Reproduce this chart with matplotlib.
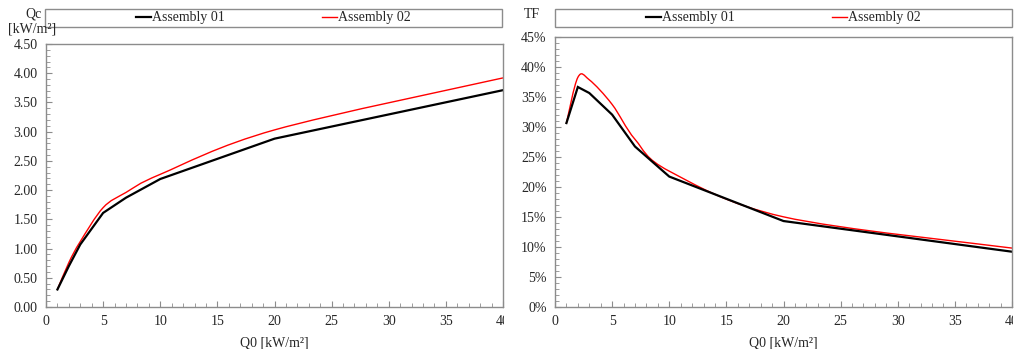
import numpy as np
import matplotlib
matplotlib.use("Agg")
import matplotlib.pyplot as plt
from matplotlib.path import Path
from matplotlib.patches import PathPatch, Rectangle
from matplotlib.lines import Line2D
from matplotlib.ticker import MultipleLocator, PercentFormatter, FormatStrFormatter

plt.rcParams['font.family'] = ['Liberation Serif', 'DejaVu Serif']

# data
q0 = [1, 2, 3, 5, 7, 10, 20, 40]
qc_a1 = [0.30, 0.70, 1.07, 1.61, 1.87, 2.19, 2.88, 3.71]
qc_a2 = [0.30, 0.76, 1.12, 1.70, 1.96, 2.27, 3.03, 3.92]
tf_a1 = [30.6, 36.6, 35.6, 32.0, 26.7, 21.7, 14.3, 9.2]
tf_a2 = [30.6, 38.2, 37.8, 33.7, 27.9, 22.6, 15.0, 9.8]
labels = ["Assembly 01", "Assembly 02"]


def smooth_path(x, y):
    # excel-like smoothed line drawn as cubic bezier segments
    x = np.asarray(x, float)
    y = np.asarray(y, float)
    verts = [(x[0], y[0])]
    codes = [Path.MOVETO]
    n = len(x)
    for i in range(n - 1):
        p0 = np.array([x[max(i - 1, 0)], y[max(i - 1, 0)]])
        p1 = np.array([x[i], y[i]])
        p2 = np.array([x[i + 1], y[i + 1]])
        p3 = np.array([x[min(i + 2, n - 1)], y[min(i + 2, n - 1)]])
        c1 = p1 + (p2 - p0) / 6.0
        c2 = p2 - (p3 - p1) / 6.0
        verts += [tuple(c1), tuple(c2), tuple(p2)]
        codes += [Path.CURVE4] * 3
    return Path(verts, codes)


fig = plt.figure(figsize=(10.16, 3.49), dpi=100)
W, H = 1016, 349

def fx(px):
    return px / W

def fy(py):
    return 1 - py / H

grey = "#8c8c8c"
tcol = "#262626"

def style(ax, ymax, ymaj, ymin):
    ax.set_xlim(0, 40)
    ax.set_ylim(0, ymax)
    ax.xaxis.set_major_locator(MultipleLocator(5))
    ax.xaxis.set_minor_locator(MultipleLocator(1))
    ax.yaxis.set_major_locator(MultipleLocator(ymaj))
    ax.yaxis.set_minor_locator(MultipleLocator(ymin))
    for s in ax.spines.values():
        s.set_color(grey)
        s.set_linewidth(1.0)
    ax.tick_params(which='both', direction='in', color=grey, labelsize=10,
                   labelcolor=tcol, top=False, right=False)
    ax.tick_params(which='major', length=4, pad=6)
    ax.tick_params(which='minor', length=3)
    ax.set_xlabel("Q0 [kW/m²]", fontsize=10, color=tcol, labelpad=6)


# left panel
ax1 = fig.add_axes([fx(46), fy(307), fx(457), (307 - 44) / H])
style(ax1, 4.5, 0.5, 0.1)
ax1.yaxis.set_major_formatter(FormatStrFormatter('%.2f'))
ax1.plot(q0, qc_a1, color='black', lw=1.6, solid_joinstyle='miter')
ax1.add_patch(PathPatch(smooth_path(q0, qc_a2), fill=False, edgecolor='red', lw=1.0))

# right panel
ax2 = fig.add_axes([fx(555), fy(307), fx(457), (307 - 36.5) / H])
style(ax2, 45, 5, 1)
ax2.yaxis.set_major_formatter(PercentFormatter(decimals=0))
ax2.plot(q0, tf_a1, color='black', lw=1.6, solid_joinstyle='miter')
ax2.add_patch(PathPatch(smooth_path(q0, tf_a2), fill=False, edgecolor='red', lw=1.0))

# y titles
fig.text(fx(34), fy(14), "Qc", ha='center', va='center', fontsize=10, color=tcol)
fig.text(fx(32), fy(29), "[kW/m²]", ha='center', va='center', fontsize=10, color=tcol)
fig.text(fx(532), fy(15), "TF", ha='center', va='center', fontsize=10, color=tcol)

# legends
handles = [Line2D([], [], color='black', lw=1.6), Line2D([], [], color='red', lw=1.0)]
for x0, x1 in [(45, 502), (555, 1012)]:
    fig.patches.append(Rectangle((fx(x0), fy(27)), fx(x1 - x0), 18 / H,
                                 transform=fig.transFigure, fill=False,
                                 edgecolor=grey, lw=1.0))
    fig.legend(handles, labels, loc='center', ncol=2,
               bbox_to_anchor=(fx((x0 + x1) / 2), fy(18)), frameon=False,
               fontsize=10, handlelength=1.1, handletextpad=0.05,
               columnspacing=7.0, labelcolor=tcol)

# clip the last x tick label like the original cropped images
for x0, x1 in [(504, 516), (1013, 1016)]:
    fig.patches.append(Rectangle((fx(x0), 0), fx(x1 - x0), fy(308),
                                 transform=fig.transFigure, facecolor='white',
                                 edgecolor='none', zorder=5))

fig.savefig("out.png", dpi=100)
